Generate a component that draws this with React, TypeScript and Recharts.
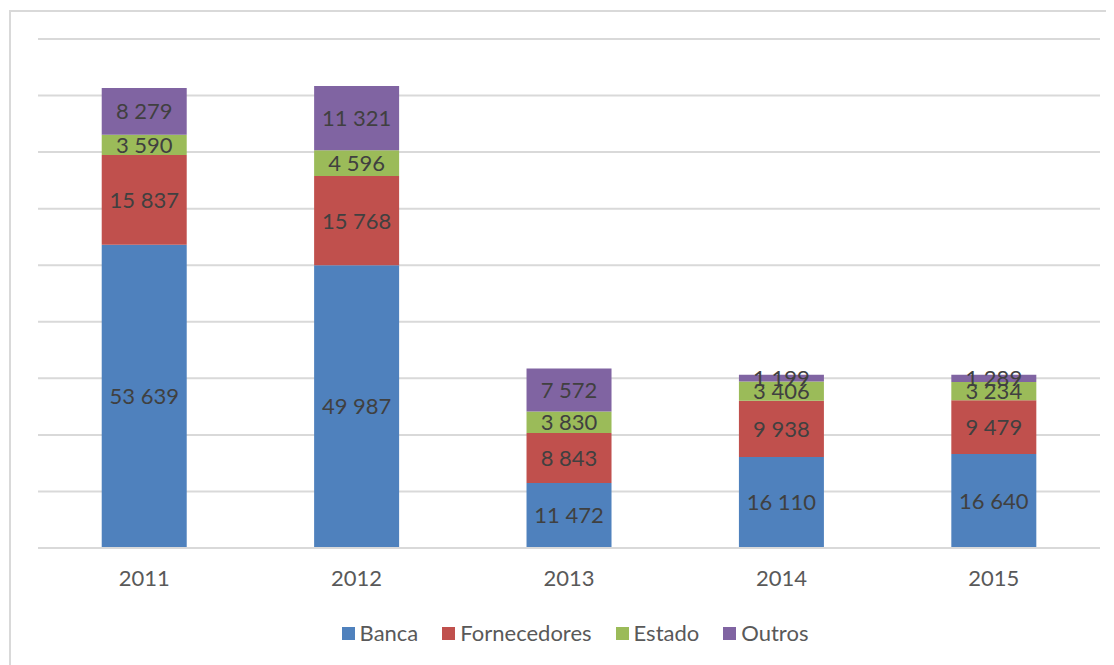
import { BarChart, Bar, XAxis, YAxis, CartesianGrid, LabelList } from 'recharts'

const YEARS = ['2011', '2012', '2013', '2014', '2015']
const BANCA = [53639, 49987, 11472, 16110, 16640]
const FORNECEDORES = [15837, 15768, 8843, 9938, 9479]
const ESTADO = [3590, 4596, 3830, 3406, 3234]
const OUTROS = [8279, 11321, 7572, 1199, 1289]
const Y_TICKS = [0, 10000, 20000, 30000, 40000, 50000, 60000, 70000, 80000, 90000]

const SERIES = [
  { key: 'Banca', color: '#4f81bd' },
  { key: 'Fornecedores', color: '#c0504d' },
  { key: 'Estado', color: '#9bbb59' },
  { key: 'Outros', color: '#8064a2' },
]

const data = YEARS.map((year, i) => ({
  year,
  Banca: BANCA[i],
  Fornecedores: FORNECEDORES[i],
  Estado: ESTADO[i],
  Outros: OUTROS[i],
}))

const FONT = 'Lato, "Open Sans", sans-serif'
const fmt = (v: any) => String(v).replace(/\B(?=(\d{3})+(?!\d))/g, ' ')

export default function App() {
  return (
    <div style={{ position: 'relative', width: 1106, height: 657, fontFamily: FONT }}>
      <div style={{ position: 'absolute', left: 1, top: 2, width: 1200, height: 800, border: '2px solid #d9d9d9', boxSizing: 'border-box' }} />
      <BarChart
        width={1106}
        height={657}
        data={data}
        margin={{ top: 31, right: 14, left: 30, bottom: 87 }}
        barCategoryGap="30%"
      >
        <CartesianGrid vertical={false} stroke="#d9d9d9" strokeWidth={2} />
        <XAxis
          dataKey="year"
          height={30}
          axisLine={{ stroke: '#d9d9d9', strokeWidth: 2 }}
          tickLine={false}
          tickSize={0}
          tickMargin={22}
          tick={{ fill: '#595959', fontSize: 22, fontFamily: FONT }}
        />
        <YAxis hide domain={[0, 90000]} ticks={Y_TICKS} />
        {SERIES.map(s => (
          <Bar key={s.key} dataKey={s.key} stackId="a" fill={s.color} isAnimationActive={false}>
            <LabelList
              dataKey={s.key}
              position="center"
              formatter={fmt}
              fill="#404040"
              fontSize={22}
              fontFamily={FONT}
            />
          </Bar>
        ))}
      </BarChart>
      {/* legend */}
      <div style={{ position: 'absolute', left: 36, width: 1062, top: 611, height: 28, display: 'flex', justifyContent: 'center', alignItems: 'center', gap: 24 }}>
        {SERIES.map(s => (
          <div key={s.key} style={{ display: 'flex', alignItems: 'center' }}>
            <span style={{ width: 13, height: 13, background: s.color, display: 'inline-block', marginRight: 5 }} />
            <span style={{ color: '#595959', fontSize: 22, lineHeight: '28px' }}>{s.key}</span>
          </div>
        ))}
      </div>
    </div>
  )
}
